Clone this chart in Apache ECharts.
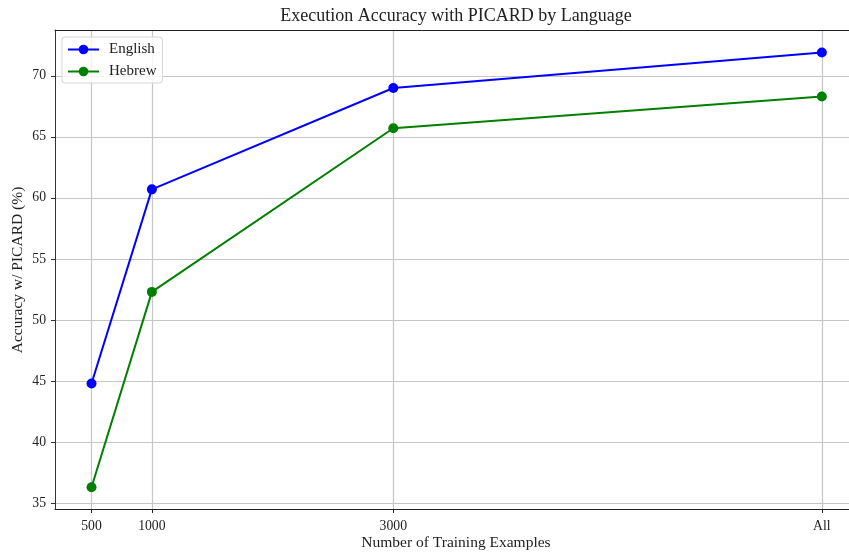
<!DOCTYPE html>
<html>
<head>
<meta charset="utf-8">
<script src="https://cdn.jsdelivr.net/npm/echarts@6/dist/echarts.min.js"></script>
<style>html,body{margin:0;padding:0;background:#fff;}#c{width:849px;height:555px;}</style>
</head>
<body>
<div id="c"></div>
<script>
const xPositions = [500, 1000, 3000, 6550];
const xTickLabels = ['500', '1000', '3000', 'All'];
const english = [44.8, 60.7, 69.0, 71.9];
const hebrew = [36.3, 52.3, 65.7, 68.3];
const yTicks = [35, 40, 45, 50, 55, 60, 65, 70];

const FONT = '"Liberation Serif", "DejaVu Serif", serif';
const chart = echarts.init(document.getElementById('c'), null, {renderer: 'canvas'});
const labelMap = {};
xPositions.forEach((v, i) => labelMap[v] = xTickLabels[i]);

chart.setOption({
  animation: false,
  backgroundColor: '#fff',
  graphic: [{
    type: 'text', x: 456, y: 16,
    style: {text: 'Execution Accuracy with PICARD by Language', font: '18px ' + FONT, fill: '#222',
      textAlign: 'center', textVerticalAlign: 'middle'}
  }, {
    type: 'text', x: 456, y: 543,
    style: {text: 'Number of Training Examples', font: '15.5px ' + FONT, fill: '#222',
      textAlign: 'center', textVerticalAlign: 'middle'}
  }, {
    type: 'text', x: 18, y: 270, rotation: Math.PI / 2,
    style: {text: 'Accuracy w/ PICARD (%)', font: '15.5px ' + FONT, fill: '#222',
      textAlign: 'center', textVerticalAlign: 'middle'}
  }],
  grid: {left: 55, right: 0, top: 30, bottom: 46, containLabel: false, outerBoundsMode: 'none'},
  legend: {
    orient: 'vertical', left: 62, top: 37,
    data: ['English', 'Hebrew'],
    itemWidth: 31, itemHeight: 12, itemGap: 7,
    padding: [5, 6, 4, 5],
    borderColor: '#d6d6d6', borderWidth: 1, borderRadius: 3,
    backgroundColor: 'rgba(255,255,255,0.8)',
    textStyle: {fontFamily: FONT, fontSize: 15, color: '#222', padding: [0, 0, 0, 5]}
  },
  xAxis: [{
    type: 'value', min: 197.5, max: 6775, position: 'bottom',
    axisLine: {show: true, lineStyle: {color: '#222', width: 1}},
    axisTick: {show: true, length: 4, customValues: xPositions, lineStyle: {color: '#222'}},
    axisLabel: {customValues: xPositions, margin: 10, fontFamily: FONT, fontSize: 13.7, color: '#222',
      formatter: v => labelMap[v] !== undefined ? labelMap[v] : ''},
    splitLine: {show: true, lineStyle: {color: '#c6c6c6', width: 1.2}}
  }, {
    type: 'value', min: 197.5, max: 6775, position: 'top',
    axisLine: {show: true, lineStyle: {color: '#222', width: 1}},
    axisTick: {show: false}, axisLabel: {show: false}, splitLine: {show: false}
  }],
  yAxis: {
    type: 'value', min: 34.52, max: 73.75,
    axisLine: {show: true, lineStyle: {color: '#333', width: 1}},
    axisTick: {show: true, length: 4, customValues: yTicks, lineStyle: {color: '#333'}},
    axisLabel: {customValues: yTicks, margin: 9, fontFamily: FONT, fontSize: 13.7, color: '#222'},
    splitLine: {show: true, lineStyle: {color: '#c6c6c6', width: 1.2}}
  },
  series: [{
    name: 'English', type: 'line',
    data: xPositions.map((x, i) => [x, english[i]]),
    symbol: 'circle', symbolSize: 10,
    lineStyle: {color: '#0000ff', width: 2}, itemStyle: {color: '#0000ff'}
  }, {
    name: 'Hebrew', type: 'line',
    data: xPositions.map((x, i) => [x, hebrew[i]]),
    symbol: 'circle', symbolSize: 10,
    lineStyle: {color: '#008000', width: 2}, itemStyle: {color: '#008000'}
  }]
});
</script>
</body>
</html>
